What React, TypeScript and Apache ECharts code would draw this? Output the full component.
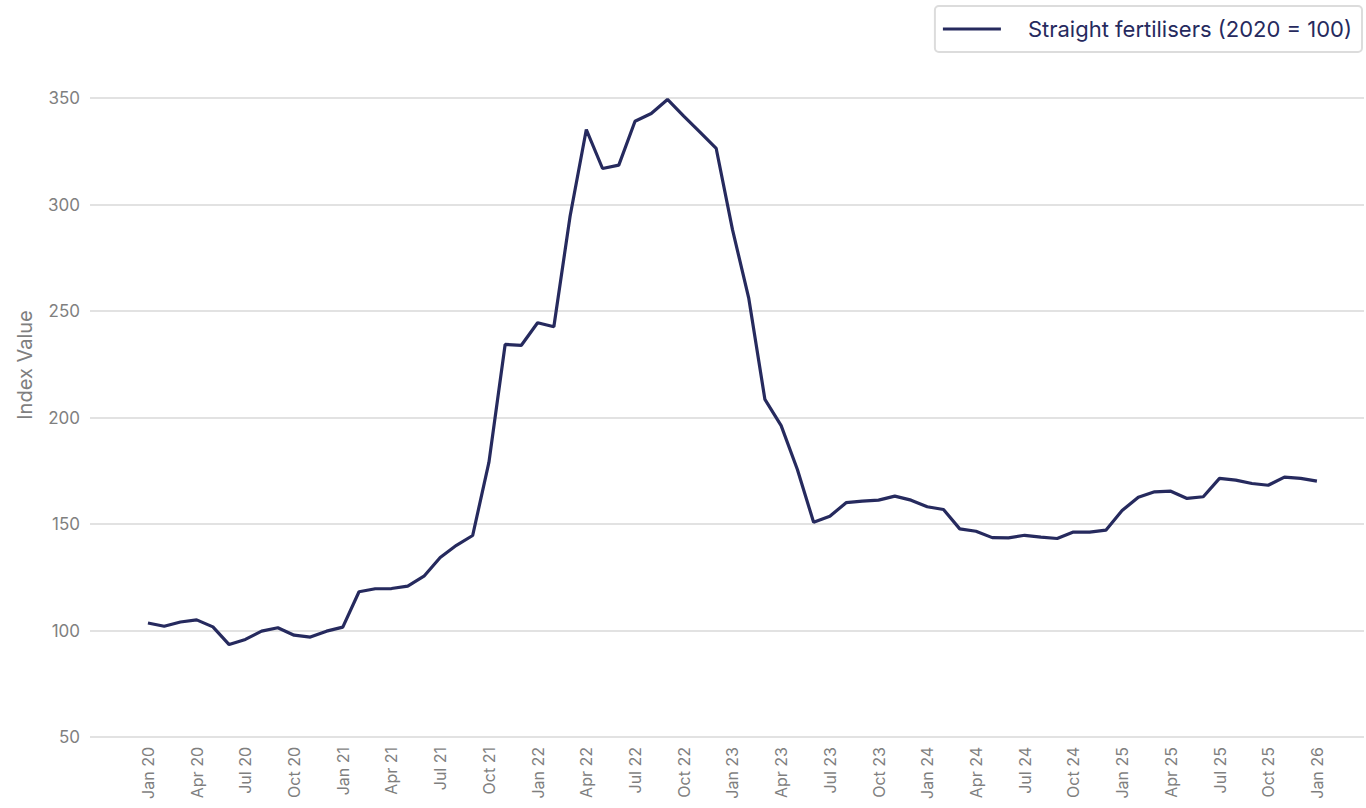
import React, { useEffect, useRef } from "react";
import * as echarts from "echarts";

const seriesName = "Straight fertilisers (2020 = 100)";

// Monthly values Jan 20 .. Jan 26 (73 months)
const values: number[] = [
  103.5, 102.0, 104.0, 105.0, 101.7, 93.4, 95.8, 99.7, 101.3, 97.8, 96.9, 99.7,
  101.6, 118.2, 119.6, 119.7, 120.8, 125.5, 134.3, 140.0, 144.6, 178.9, 234.3, 233.9,
  244.5, 242.6, 294.5, 335.2, 316.9, 318.5, 339.1, 342.7, 349.3, 341.5, 334.0, 326.3,
  288.3, 256.2, 208.5, 196.2, 175.6, 150.8, 153.6, 160.0, 160.7, 161.2, 163.1, 161.2,
  158.1, 156.8, 147.7, 146.6, 143.6, 143.5, 144.7, 143.8, 143.2, 146.2, 146.2, 147.1,
  156.3, 162.6, 165.1, 165.4, 162.0, 162.8, 171.4, 170.6, 169.0, 168.2, 172.0, 171.4,
  170.1,
];

// Tick labels, every third month starting Jan 20
const tickLabels: string[] = [
  "Jan 20", "Apr 20", "Jul 20", "Oct 20",
  "Jan 21", "Apr 21", "Jul 21", "Oct 21",
  "Jan 22", "Apr 22", "Jul 22", "Oct 22",
  "Jan 23", "Apr 23", "Jul 23", "Oct 23",
  "Jan 24", "Apr 24", "Jul 24", "Oct 24",
  "Jan 25", "Apr 25", "Jul 25", "Oct 25",
  "Jan 26",
];

const tickPositions: number[] = tickLabels.map((_, i) => i * 3);

const FONT = "Inter, 'Noto Sans', sans-serif";

export default function App() {
  const ref = useRef<HTMLDivElement>(null);

  useEffect(() => {
    if (!ref.current) return;
    const chart = echarts.init(ref.current, undefined, { renderer: "svg" });
    chart.setOption({
      animation: false,
      backgroundColor: "#ffffff",
      textStyle: { fontFamily: FONT },
      legend: {
        show: true,
        right: 4,
        top: 6,
        data: [seriesName],
        icon: "rect",
        itemWidth: 58,
        itemHeight: 3,
        borderColor: "#dcdcdc",
        borderWidth: 2,
        borderRadius: 4,
        padding: [12, 10, 12, 8],
        textStyle: {
          fontFamily: FONT,
          fontSize: 22,
          color: "#262a5e",
          padding: [0, 0, 0, 22],
        },
      },
      grid: { left: 90, right: 2, top: 98, bottom: 71, containLabel: false },
      xAxis: {
        type: "value",
        min: -3.57,
        max: 74.9,
        axisLine: { show: false },
        axisTick: { show: false },
        splitLine: { show: false },
        axisLabel: {
          customValues: tickPositions,
          rotate: 90,
          margin: 10,
          fontSize: 16,
          color: "#7f7f7f",
          fontFamily: FONT,
          formatter: (v: number) => tickLabels[Math.round(v / 3)] ?? "",
        },
      },
      yAxis: {
        type: "value",
        min: 50,
        max: 350,
        interval: 50,
        axisLine: { show: false },
        axisTick: { show: false },
        splitLine: { lineStyle: { color: "#d9d9d9", width: 1.5 } },
        axisLabel: { fontSize: 17, color: "#7f7f7f", margin: 10, fontFamily: FONT },
      },
      graphic: [
        {
          type: "text",
          x: 15,
          y: 365,
          rotation: Math.PI / 2,
          style: {
            text: "Index Value",
            fontSize: 20,
            fontFamily: FONT,
            fill: "#7f7f7f",
            textAlign: "center",
            textVerticalAlign: "top",
          },
        },
      ],
      series: [
        {
          name: seriesName,
          type: "line",
          data: values.map((v, i) => [i, v]),
          showSymbol: false,
          symbol: "none",
          lineStyle: { color: "#262a5e", width: 3.2 },
          itemStyle: { color: "#262a5e" },
        },
      ],
    });
    return () => chart.dispose();
  }, []);

  return <div ref={ref} style={{ width: 1366, height: 808, position: "absolute", left: 0, top: 0 }} />;
}
